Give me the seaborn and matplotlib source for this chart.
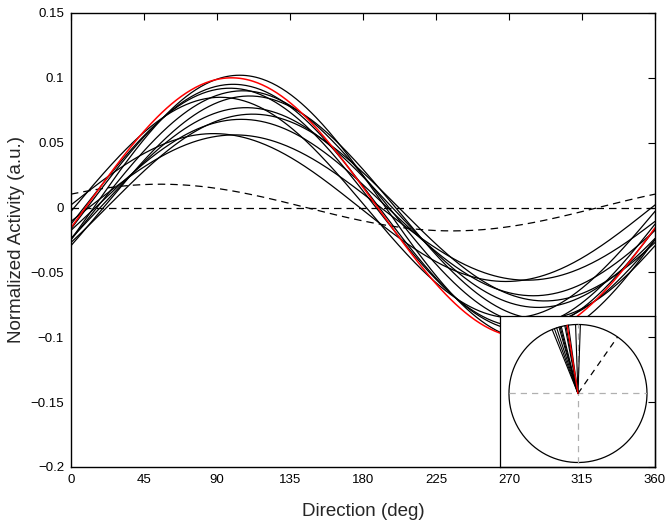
import numpy as np
import pandas as pd
import matplotlib
matplotlib.use("Agg")
import matplotlib.pyplot as plt
import seaborn as sns

# Cosine tuning fits: amplitude (a.u.) and preferred direction (deg)
cell_amps = [0.102, 0.095, 0.092, 0.090, 0.085, 0.077, 0.072, 0.068, 0.057, 0.056, 0.086]
cell_pref = [104, 100, 98, 106, 92, 108, 112, 105, 88, 101, 110]
pop_amp = 0.100          # red curve
pop_pref = 99
ctrl_amp = 0.018         # dashed control curve
ctrl_pref = 55
x_ticks = [0, 45, 90, 135, 180, 225, 270, 315, 360]
y_ticks = [-0.2, -0.15, -0.1, -0.05, 0, 0.05, 0.1, 0.15]

sns.set_theme(style="white")
plt.rcParams['font.family'] = ['Liberation Sans', 'DejaVu Sans']


def tuning(amp, pref, deg):
    return amp * np.cos(np.deg2rad(deg - pref))


deg = np.arange(0, 361, 1)
rows = []
for i, (a, p) in enumerate(zip(cell_amps, cell_pref)):
    rows.append(pd.DataFrame({'Direction': deg, 'Activity': tuning(a, p, deg), 'cell': i}))
cells = pd.concat(rows, ignore_index=True)
pop = pd.DataFrame({'Direction': deg, 'Activity': tuning(pop_amp, pop_pref, deg)})
ctrl = pd.DataFrame({'Direction': deg, 'Activity': tuning(ctrl_amp, ctrl_pref, deg)})
flat = pd.DataFrame({'Direction': deg, 'Activity': np.zeros_like(deg, dtype=float)})

fig = plt.figure(figsize=(6.67, 5.25), dpi=100)
ax = fig.add_axes([0.1064, 0.1105, 0.8756, 0.8648])

sns.lineplot(data=flat, x='Direction', y='Activity', color='black', lw=0.9,
             ax=ax, linestyle=(0, (6, 4)))
sns.lineplot(data=ctrl, x='Direction', y='Activity', color='black', lw=0.9,
             ax=ax, linestyle=(0, (6, 4)))
sns.lineplot(data=cells, x='Direction', y='Activity', units='cell', estimator=None,
             color='black', lw=0.9, ax=ax)
sns.lineplot(data=pop, x='Direction', y='Activity', color='red', lw=1.1, ax=ax)

ax.set_xlim(0, 360)
ax.set_ylim(-0.2, 0.15)
ax.set_xticks(x_ticks)
ax.set_yticks(y_ticks)
ax.set_yticklabels([('%g' % v).replace('-', '\u2212') for v in y_ticks])
ax.tick_params(direction='in', length=5, width=0.8, top=True, right=True,
               labelsize=9.5, colors='black', pad=5)
ax.set_axisbelow(False)   # ticks drawn over the inset, as in the original
for s in ax.spines.values():
    s.set_color('black')
    s.set_linewidth(1.0)
ax.set_xlabel('Direction (deg)', fontsize=13.5, color='#262626', labelpad=12)
ax.set_ylabel('Normalized Activity (a.u.)', fontsize=13.5, color='#262626', labelpad=4)

# --- inset: preferred directions as unit vectors ---
ins = ax.inset_axes([0.7346, 0.0, 0.2654, 0.3326])
ins.set_zorder(2.2)
ins.set_facecolor('white')
th = np.linspace(0, 2 * np.pi, 200)
ins.plot(np.cos(th), np.sin(th), color='black', lw=0.9)
ins.plot([-1, 1], [0, 0], color='#b0b0b0', lw=0.9, linestyle=(0, (5, 4)))
ins.plot([0, 0], [-1, 1], color='#b0b0b0', lw=0.9, linestyle=(0, (5, 4)))
for p in cell_pref:
    r = np.deg2rad(p)
    ins.plot([0, np.cos(r)], [0, np.sin(r)], color='black', lw=0.8)
r = np.deg2rad(ctrl_pref)
ins.plot([0, np.cos(r)], [0, np.sin(r)], color='black', lw=0.9, linestyle=(0, (5, 4)))
r = np.deg2rad(pop_pref)
ins.plot([0, np.cos(r)], [0, np.sin(r)], color='red', lw=1.0)
ins.set_xlim(-1.13, 1.116)
ins.set_ylim(-1.065, 1.123)
ins.set_xticks([])
ins.set_yticks([])
for s in ins.spines.values():
    s.set_color('black')
    s.set_linewidth(0.9)

fig.savefig('out.png', dpi=100)
